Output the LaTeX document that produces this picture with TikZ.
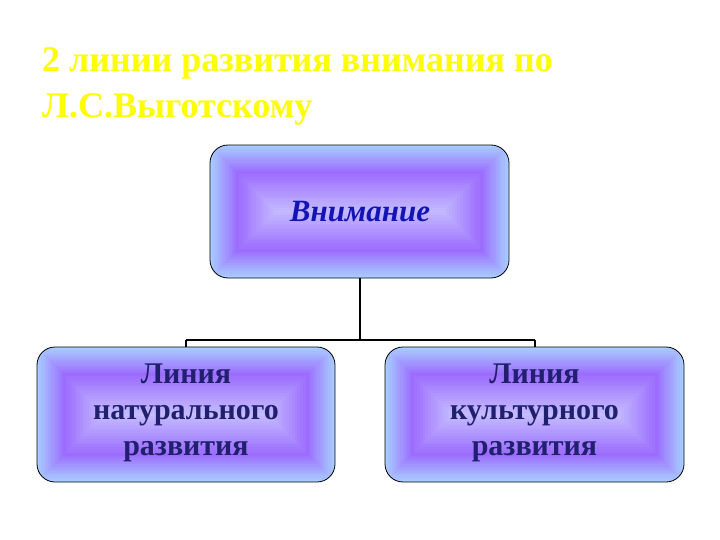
\documentclass[tikz,border=0pt]{standalone}
\usepackage{fontspec}
\setmainfont{Liberation Serif}
\definecolor{edgeblue}{HTML}{A8CCFF}
\definecolor{violetband}{HTML}{9C6CFF}
\definecolor{centerlav}{HTML}{C4BCFF}
\definecolor{txtblue}{HTML}{1414B4}
\definecolor{txtnavy}{HTML}{20206E}
\definecolor{titleyellow}{HTML}{FFFF00}
\newcommand{\gradbox}[4]{%
  \foreach \i in {0,...,12}{%
    \pgfmathsetmacro{\p}{\i*100/12}%
    \pgfmathsetmacro{\d}{\i*2.2}%
    \fill[violetband!\p!edgeblue] ({#1+\d},{#2+\d}) rectangle ({#3-\d},{#4-\d});}%
  \foreach \i in {0,...,14}{%
    \pgfmathsetmacro{\p}{\i*100/14}%
    \pgfmathsetmacro{\d}{26.4+\i*2.8}%
    \fill[centerlav!\p!violetband] ({#1+\d},{#2+\d}) rectangle ({#3-\d},{#4-\d});}%
}
\tikzset{
  boxframe/.style={draw=black, line width=0.8pt, rounded corners=18pt, inner sep=0pt},
  boxtext/.style={text=txtnavy, font=\bfseries\fontsize{30}{36}\selectfont, align=center},
  link/.style={draw=black, line width=2pt}
}
\begin{document}
\begin{tikzpicture}[x=1pt,y=-1pt]
\useasboundingbox (0,0) rectangle (720,540);
\fill[white] (0,0) rectangle (720,540);
\begin{scope}
\clip[rounded corners=18pt] (210,145) rectangle (509,278);
\gradbox{210}{145}{509}{278}
\end{scope}
\begin{scope}
\clip[rounded corners=18pt] (37,347) rectangle (335,482);
\gradbox{37}{347}{335}{482}
\end{scope}
\begin{scope}
\clip[rounded corners=18pt] (385,347) rectangle (684,482);
\gradbox{385}{347}{684}{482}
\end{scope}
\node[boxframe, minimum width=299pt, minimum height=133pt] (top) at (359.5,211.5) {};
\node[boxframe, minimum width=298pt, minimum height=135pt] (left) at (186,414.5) {};
\node[boxframe, minimum width=299pt, minimum height=135pt] (right) at (534.5,414.5) {};
\node[boxtext, text=txtblue, font=\bfseries\itshape\fontsize{31}{36}\selectfont] (ttop) at (360,212) {Внимание};
\node[boxtext] (tleft) at (186,413) {Линия\\натурального\\развития};
\node[boxtext] (tright) at (534.5,413) {Линия\\культурного\\развития};
\coordinate (junc) at (359.5,340);
\coordinate (jl) at (186,340);
\coordinate (jr) at (534.5,340);
\draw[link] (top.south) -- (junc);
\draw[link] (jl) -- (jr);
\draw[link] (jl) -- (left.north);
\draw[link] (jr) -- (right.north);
\node[anchor=north west, text=titleyellow, font=\bfseries\fontsize{36}{46}\selectfont, align=left, inner sep=0pt] (title) at (42,47) {2 линии развития внимания по\\Л.С.Выготскому};
\end{tikzpicture}
\end{document}
